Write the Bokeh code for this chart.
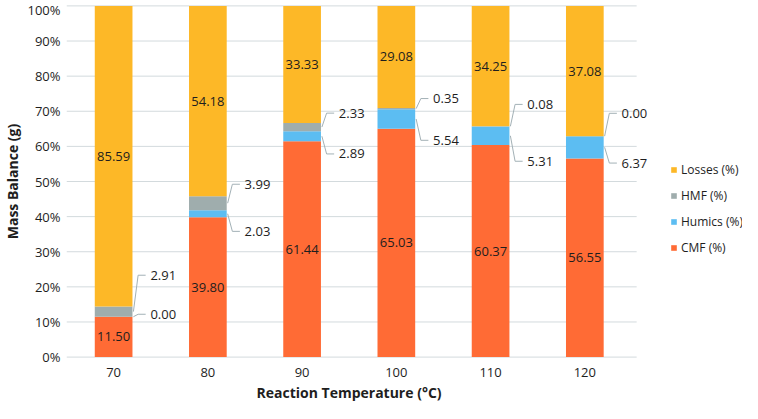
import numpy as np
from bokeh.plotting import figure
from bokeh.models import (ColumnDataSource, Range1d, FixedTicker, PrintfTickFormatter,
                          Legend, LegendItem, Title)
from bokeh.core.properties import value
from bokeh.embed import file_html
from bokeh.resources import INLINE

# ---------------- data ----------------
temps = ["70", "80", "90", "100", "110", "120"]
cmf = [11.50, 39.80, 61.44, 65.03, 60.37, 56.55]
humics = [0.00, 2.03, 2.89, 5.54, 5.31, 6.37]
hmf = [2.91, 3.99, 2.33, 0.35, 0.08, 0.00]
losses = [85.59, 54.18, 33.33, 29.08, 34.25, 37.08]
series_names = ["CMF (%)", "Humics (%)", "HMF (%)", "Losses (%)"]
y_ticks = [0, 10, 20, 30, 40, 50, 60, 70, 80, 90, 100]

# ---------------- layout / style ----------------
colors = ["#FF6B35", "#5CBDF2", "#9FADAD", "#FDB827"]
# callout label offsets (percentage points) relative to segment edges
hmf_label_dy = [8.9, 3.4, 2.8, 2.7, 6.2, 6.5]     # above top of HMF segment
hum_label_dy = [0.7, -4.0, -3.6, -3.3, -4.6, -1.3]  # relative to top of CMF segment
FONT = "Open Sans"
TXT = "#1E1E1E"
BAR_W = 0.4
W, H = 742, 403
LEFT = 62            # left border (y axis)
PX_PER_CAT = 94.8    # pixels per category slot

n = len(temps)
x = np.arange(n, dtype=float)
arr = np.array([cmf, humics, hmf, losses], dtype=float)
tot = arr.sum(axis=0)
norm = arr / tot * 100.0
keys = ["cmf", "humics", "hmf", "losses"]
src = ColumnDataSource(dict(x=x, **{k: norm[j] for j, k in enumerate(keys)}))

x_end = -0.5 + (W - LEFT) / PX_PER_CAT
p = figure(width=W, height=H, output_backend="svg", toolbar_location=None,
           x_range=Range1d(-0.5, x_end), y_range=Range1d(-0.4, 100.4),
           min_border_left=LEFT, min_border_right=0, min_border_top=4, min_border_bottom=10)
p.outline_line_color = None
p.background_fill_color = "white"
p.border_fill_color = "white"

# horizontal gridlines spanning the category area only
p.segment(x0=[-0.5] * len(y_ticks), x1=[n - 0.45] * len(y_ticks), y0=y_ticks, y1=y_ticks,
          line_color="#D3DADD", line_width=1)

renderers = p.vbar_stack(keys, x="x", width=BAR_W, color=colors, line_color=None, source=src)

# in-bar labels for CMF and Losses
cmf_y = norm[0] / 2
loss_y = 100 - norm[3] / 2
in_src = ColumnDataSource(dict(
    x=np.concatenate([x, x]),
    y=np.concatenate([cmf_y, loss_y]),
    t=[f"{v:.2f}" for v in cmf] + [f"{v:.2f}" for v in losses]))
p.text(x="x", y="y", text="t", source=in_src, text_align="center", text_baseline="middle",
       text_font=value(FONT), text_font_size="13px", text_color=TXT)

# callouts for HMF and Humics
bar_r = BAR_W / 2
xs, ys, lx, ly, lt = [], [], [], [], []
for i in range(n):
    cm, hu, hm = norm[0][i], norm[1][i], norm[2][i]
    for anchor, yl, val in ((cm + hu + hm / 2, cm + hu + hm + hmf_label_dy[i], hmf[i]),
                            (cm + hu / 2, cm + hum_label_dy[i], humics[i])):
        xs.append([i + bar_r + 0.01, i + bar_r + 0.06, i + bar_r + 0.14])
        ys.append([anchor, yl, yl])
        lx.append(i + bar_r + 0.19); ly.append(yl); lt.append(f"{val:.2f}")

p.multi_line(xs=xs, ys=ys, line_color="#A3B1B6", line_width=1)
lab_src = ColumnDataSource(dict(x=lx, y=ly, t=lt))
p.text(x="x", y="y", text="t", source=lab_src, text_align="left", text_baseline="middle",
       text_font=value(FONT), text_font_size="13px", text_color=TXT)

# axes
p.xgrid.grid_line_color = None
p.ygrid.grid_line_color = None
p.yaxis.ticker = FixedTicker(ticks=y_ticks)
p.yaxis.formatter = PrintfTickFormatter(format="%d%%")
p.xaxis.ticker = FixedTicker(ticks=list(range(n)))
p.xaxis.major_label_overrides = {i: t for i, t in enumerate(temps)}
for ax in (p.xaxis[0], p.yaxis[0]):
    ax.axis_line_color = None
    ax.major_tick_line_color = None
    ax.minor_tick_line_color = None
    ax.major_tick_out = 0
    ax.major_tick_in = 0
    ax.major_label_text_font = FONT
    ax.major_label_text_font_size = "13px"
    ax.major_label_text_color = TXT
    ax.axis_label_text_font = FONT
    ax.axis_label_text_font_size = "14px"
    ax.axis_label_text_font_style = "bold"
    ax.axis_label_text_color = TXT
p.yaxis.major_label_standoff = 6
p.yaxis.axis_label_standoff = 2
p.xaxis.major_label_standoff = 9
p.yaxis.axis_label = "Mass Balance (g)"

# x axis title centred under the category area
xt = Title(text="Reaction Temperature (°C)", align="left", offset=190, standoff=3,
           text_font=FONT, text_font_size="14px", text_font_style="bold", text_color=TXT)
p.add_layout(xt, "below")

items = [LegendItem(label=series_names[j], renderers=[renderers[j]]) for j in [3, 2, 1, 0]]
legend = Legend(items=items, location=(604, 102), orientation="vertical",
                label_text_font=FONT, label_text_font_size="12px", label_text_color=TXT,
                glyph_width=7, glyph_height=7, label_standoff=4, label_height=7,
                spacing=9, padding=0, margin=0, border_line_color=None,
                background_fill_alpha=0)
p.add_layout(legend, "center")

open("out.html", "w").write(file_html(p, INLINE))
